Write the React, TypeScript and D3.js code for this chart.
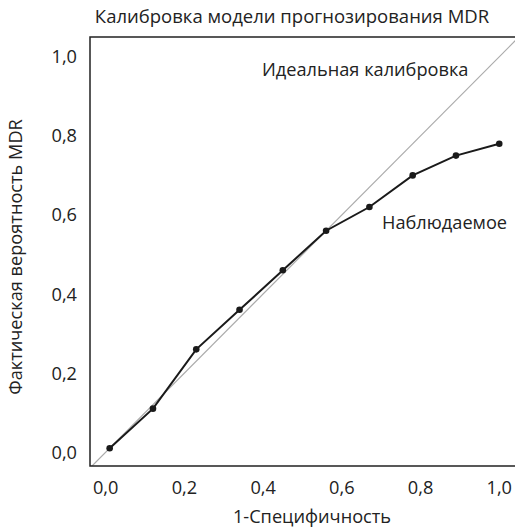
import React from "react";
import * as d3 from "d3";

const xValues = [0.01, 0.12, 0.23, 0.34, 0.45, 0.56, 0.67, 0.78, 0.89, 1.0];
const yValues = [0.01, 0.11, 0.26, 0.36, 0.46, 0.56, 0.62, 0.70, 0.75, 0.78];
const tickValues = [0, 0.2, 0.4, 0.6, 0.8, 1.0];
const tickLabels = ["0,0", "0,2", "0,4", "0,6", "0,8", "1,0"];
const title = "Калибровка модели прогнозирования MDR";
const xTitle = "1-Специфичность";
const yTitle = "Фактическая вероятность MDR";
const idealLabel = "Идеальная калибровка";
const observedLabel = "Наблюдаемое";

const W = 515;
const H = 530;
const FONT = "'Open Sans', sans-serif";
const FS = 18.2;

export default function App() {
  const x = d3.scaleLinear().domain([-0.04, 1.04]).range([90, 515]);
  const y = d3.scaleLinear().domain([-0.035, 1.05]).range([466, 37]);
  const pts = xValues.map((v, i) => [v, yValues[i]] as [number, number]);
  const line = d3
    .line<[number, number]>()
    .x((d) => x(d[0]))
    .y((d) => y(d[1]));
  const diag: [number, number][] = [
    [-0.04, -0.04],
    [1.1, 1.1],
  ];
  return (
    <svg
      width={W}
      height={H}
      style={{ position: "absolute", left: 0, top: 0, background: "#fff" }}
      fontFamily={FONT}
    >
      <defs>
        <clipPath id="plotclip">
          <rect x={90} y={37} width={430} height={429} />
        </clipPath>
      </defs>
      <rect x={0} y={0} width={W} height={H} fill="#fff" />
      <text x={292} y={23} textAnchor="middle" fontSize={18.5} fill="#222">
        {title}
      </text>
      <g clipPath="url(#plotclip)">
        <path d={line(diag) || ""} stroke="#aaa" strokeWidth={1.2} fill="none" />
        <path d={line(pts) || ""} stroke="#1a1a1a" strokeWidth={2} fill="none" />
        {pts.map((d, i) => (
          <circle key={i} cx={x(d[0])} cy={y(d[1])} r={3.3} fill="#1a1a1a" />
        ))}
      </g>
      <path d="M515,37 H90 V466 H515" stroke="#222" strokeWidth={1.5} fill="none" />
      {tickValues.map((t, i) => (
        <text key={"x" + i} x={x(t)} y={494} textAnchor="middle" fontSize={FS} fill="#222">
          {tickLabels[i]}
        </text>
      ))}
      {tickValues.map((t, i) => (
        <text key={"y" + i} x={77} y={y(t) + 6.5} textAnchor="end" fontSize={FS} fill="#222">
          {tickLabels[i]}
        </text>
      ))}
      <text x={312} y={523} textAnchor="middle" fontSize={FS} fill="#222">
        {xTitle}
      </text>
      <text
        transform={`translate(22,257) rotate(-90)`}
        textAnchor="middle"
        fontSize={FS}
        fill="#222"
      >
        {yTitle}
      </text>
      <text x={262} y={76} fontSize={FS} fill="#222">
        {idealLabel}
      </text>
      <text x={382} y={229} fontSize={FS} fill="#222">
        {observedLabel}
      </text>
    </svg>
  );
}
